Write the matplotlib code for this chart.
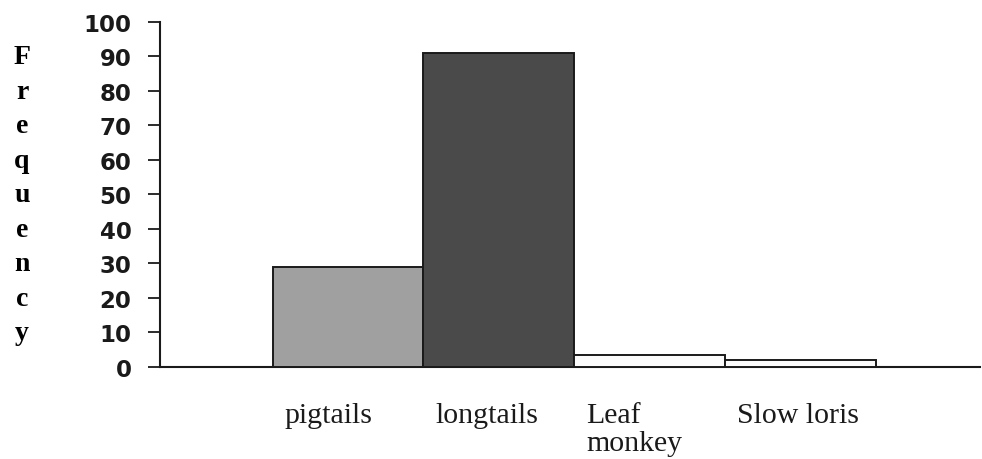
import matplotlib
matplotlib.use("Agg")
from matplotlib import pyplot as plt
from matplotlib import transforms

# données
species = ["pigtails", "longtails", "Leaf\nmonkey", "Slow loris"]
freq = [29, 91, 3.5, 2]
colors = ["#a0a0a0", "#4a4a4a", "#fbfbfb", "#fbfbfb"]
yticks = list(range(0, 101, 10))

fig = plt.figure(figsize=(9.82, 4.6), dpi=100)
ax = fig.add_axes([160/982, 92/460, 820/982, 345.3/460])

x = list(range(len(species)))
ax.bar(x, freq, width=1.0, color=colors, edgecolor="#1a1a1a", linewidth=1.4, zorder=3)

ax.set_xlim(-1.248, 4.192)
ax.set_ylim(0, 100)
ax.set_yticks(yticks)
ax.set_yticklabels([str(t) for t in yticks], fontsize=16.5, family="DejaVu Sans", fontweight="bold")
ax.tick_params(axis="y", direction="out", length=8.6, width=1.3, pad=12, colors="#1a1a1a")
ax.set_xticks([])

for s in ["top", "right"]:
    ax.spines[s].set_visible(False)
for s in ["left", "bottom"]:
    ax.spines[s].set_linewidth(1.5)
    ax.spines[s].set_color("#1a1a1a")

# étiquettes de catégories, alignées à gauche comme dans Excel
trans = transforms.blended_transform_factory(ax.transData, ax.transAxes)
for i, name in enumerate(species):
    ax.text(i - 0.5 + 0.08, -0.1, name, transform=trans, ha="left", va="top",
            fontsize=21.5, family="Liberation Serif", linespacing=1.1, color="#1a1a1a")

# titre vertical lettre par lettre
fig.text(22/982, 1 - 196/460, "\n".join("Frequency"), ha="center", va="center",
         fontsize=20, family="Liberation Serif", fontweight="bold", linespacing=1.5)

fig.savefig("out.png", dpi=100)
